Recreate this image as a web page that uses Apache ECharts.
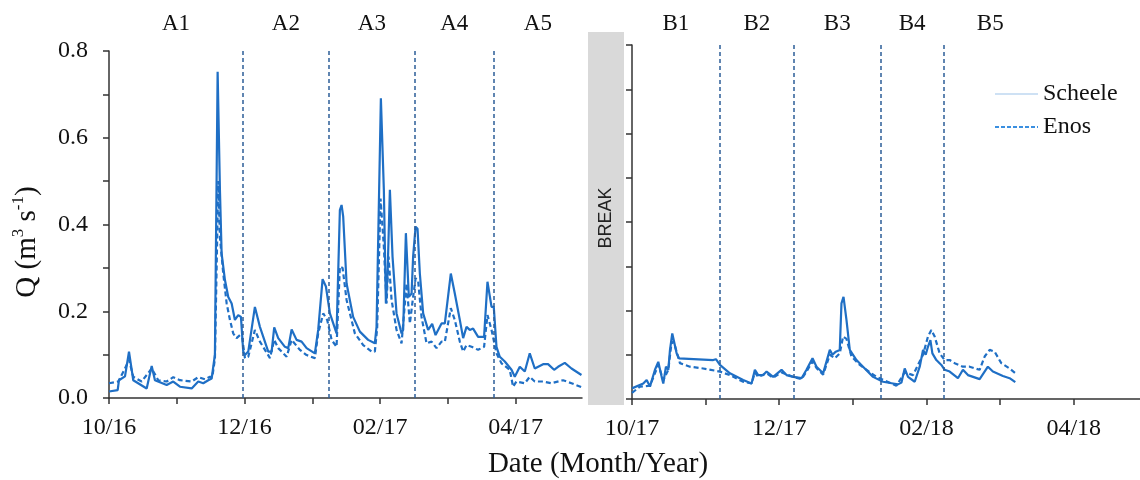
<!DOCTYPE html>
<html>
<head>
<meta charset="utf-8">
<script src="https://cdn.jsdelivr.net/npm/echarts@6/dist/echarts.min.js"></script>
<style>
  html, body { margin: 0; padding: 0; background: #fff; }
  #chart { width: 1140px; height: 480px; }
</style>
</head>
<body>
<div id="chart"></div>
<script>
// Discharge Q (m3/s) per season. x = months since the season's first month
// (season A starts Oct 2016, season B starts Oct 2017).
const scheeleA = [
  [0.000, 0.015], [0.128, 0.018], [0.147, 0.041], [0.236, 0.050], [0.295, 0.107],
  [0.358, 0.041], [0.556, 0.022], [0.630, 0.074], [0.678, 0.041], [0.851, 0.030],
  [0.948, 0.038], [1.047, 0.026], [1.220, 0.022], [1.317, 0.038], [1.391, 0.034],
  [1.465, 0.041], [1.515, 0.045], [1.563, 0.100], [1.603, 0.752], [1.637, 0.480],
  [1.662, 0.333], [1.711, 0.272], [1.760, 0.233], [1.810, 0.218], [1.858, 0.180],
  [1.907, 0.191], [1.947, 0.187], [1.981, 0.107], [2.006, 0.099], [2.055, 0.107],
  [2.153, 0.210], [2.227, 0.164], [2.350, 0.107], [2.400, 0.107], [2.438, 0.163],
  [2.497, 0.138], [2.596, 0.118], [2.645, 0.115], [2.695, 0.158], [2.768, 0.134],
  [2.842, 0.130], [2.916, 0.115], [3.038, 0.103], [3.087, 0.157], [3.152, 0.274],
  [3.201, 0.257], [3.260, 0.195], [3.358, 0.149], [3.407, 0.433], [3.432, 0.445],
  [3.456, 0.418], [3.506, 0.264], [3.603, 0.187], [3.702, 0.153], [3.824, 0.134],
  [3.923, 0.126], [3.948, 0.164], [4.012, 0.691], [4.056, 0.480], [4.086, 0.218],
  [4.111, 0.287], [4.145, 0.480], [4.184, 0.326], [4.243, 0.195], [4.317, 0.149],
  [4.341, 0.157], [4.381, 0.380], [4.425, 0.233], [4.465, 0.241], [4.488, 0.326],
  [4.524, 0.395], [4.553, 0.390], [4.587, 0.287], [4.636, 0.195], [4.709, 0.157],
  [4.769, 0.171], [4.819, 0.145], [4.907, 0.172], [4.956, 0.172], [5.044, 0.287],
  [5.103, 0.241], [5.177, 0.180], [5.226, 0.138], [5.276, 0.164], [5.324, 0.157],
  [5.373, 0.160], [5.447, 0.141], [5.535, 0.141], [5.585, 0.268], [5.645, 0.210],
  [5.678, 0.210], [5.718, 0.118], [5.767, 0.095], [5.841, 0.084], [5.940, 0.065],
  [5.988, 0.049], [6.062, 0.072], [6.136, 0.061], [6.209, 0.103], [6.283, 0.068],
  [6.406, 0.078], [6.479, 0.078], [6.568, 0.065], [6.627, 0.072], [6.726, 0.081],
  [6.825, 0.068], [6.972, 0.053]
];
const enosA = [
  [0.000, 0.034], [0.137, 0.038], [0.236, 0.068], [0.295, 0.088], [0.358, 0.049],
  [0.482, 0.038], [0.630, 0.068], [0.727, 0.041], [0.851, 0.038], [0.948, 0.048],
  [1.047, 0.041], [1.220, 0.038], [1.317, 0.048], [1.416, 0.043], [1.490, 0.049],
  [1.524, 0.048], [1.563, 0.090], [1.612, 0.500], [1.637, 0.370], [1.686, 0.287],
  [1.736, 0.218], [1.785, 0.180], [1.833, 0.149], [1.883, 0.138], [1.932, 0.145],
  [1.966, 0.138], [2.006, 0.092], [2.055, 0.095], [2.153, 0.157], [2.227, 0.130],
  [2.375, 0.092], [2.438, 0.134], [2.497, 0.115], [2.621, 0.095], [2.695, 0.134],
  [2.817, 0.111], [2.916, 0.099], [3.038, 0.092], [3.087, 0.149], [3.161, 0.195],
  [3.220, 0.180], [3.285, 0.134], [3.358, 0.118], [3.407, 0.303], [3.447, 0.300],
  [3.506, 0.226], [3.628, 0.149], [3.751, 0.122], [3.875, 0.107], [3.923, 0.107],
  [3.957, 0.160], [4.007, 0.460], [4.056, 0.349], [4.096, 0.218], [4.125, 0.326],
  [4.170, 0.226], [4.243, 0.157], [4.317, 0.126], [4.341, 0.130], [4.391, 0.264],
  [4.440, 0.172], [4.488, 0.233], [4.524, 0.276], [4.562, 0.270], [4.612, 0.187],
  [4.686, 0.126], [4.760, 0.130], [4.833, 0.115], [4.907, 0.130], [4.956, 0.130],
  [5.044, 0.207], [5.103, 0.180], [5.177, 0.130], [5.226, 0.107], [5.276, 0.122],
  [5.350, 0.118], [5.447, 0.111], [5.535, 0.118], [5.585, 0.191], [5.645, 0.157],
  [5.718, 0.103], [5.792, 0.080], [5.914, 0.065], [5.963, 0.026], [6.013, 0.038],
  [6.136, 0.034], [6.209, 0.049], [6.283, 0.038], [6.406, 0.038], [6.529, 0.034],
  [6.701, 0.041], [6.825, 0.034], [6.972, 0.025]
];
const scheeleB = [
  [0.000, 0.024], [0.153, 0.035], [0.199, 0.043], [0.244, 0.028], [0.312, 0.066],
  [0.357, 0.084], [0.403, 0.050], [0.425, 0.035], [0.461, 0.073], [0.493, 0.066],
  [0.516, 0.111], [0.547, 0.148], [0.574, 0.145], [0.607, 0.103], [0.638, 0.092],
  [1.103, 0.088], [1.140, 0.090], [1.194, 0.077], [1.330, 0.058], [1.510, 0.043],
  [1.624, 0.035], [1.669, 0.066], [1.714, 0.054], [1.782, 0.054], [1.828, 0.062],
  [1.917, 0.050], [2.031, 0.066], [2.099, 0.054], [2.189, 0.050], [2.303, 0.047],
  [2.370, 0.066], [2.452, 0.092], [2.506, 0.073], [2.596, 0.058], [2.687, 0.111],
  [2.723, 0.100], [2.768, 0.107], [2.822, 0.111], [2.845, 0.216], [2.873, 0.231],
  [2.913, 0.179], [2.958, 0.111], [3.049, 0.088], [3.138, 0.073], [3.274, 0.050],
  [3.410, 0.039], [3.545, 0.035], [3.613, 0.033], [3.659, 0.037], [3.704, 0.069],
  [3.749, 0.050], [3.840, 0.039], [3.908, 0.073], [3.953, 0.111], [3.989, 0.100],
  [4.020, 0.118], [4.053, 0.133], [4.080, 0.103], [4.134, 0.088], [4.202, 0.077],
  [4.247, 0.066], [4.315, 0.062], [4.427, 0.047], [4.495, 0.066], [4.563, 0.054],
  [4.722, 0.045], [4.834, 0.073], [4.902, 0.062], [5.038, 0.052], [5.129, 0.047],
  [5.206, 0.038]
];
const enosB = [
  [0.000, 0.014], [0.109, 0.028], [0.244, 0.030], [0.357, 0.077], [0.425, 0.043],
  [0.493, 0.066], [0.539, 0.130], [0.583, 0.120], [0.651, 0.081], [0.787, 0.073],
  [0.967, 0.069], [1.194, 0.062], [1.330, 0.054], [1.510, 0.039], [1.624, 0.035],
  [1.669, 0.060], [1.714, 0.050], [1.828, 0.058], [1.917, 0.048], [2.031, 0.060],
  [2.189, 0.050], [2.303, 0.045], [2.370, 0.062], [2.452, 0.085], [2.506, 0.070],
  [2.596, 0.055], [2.687, 0.100], [2.755, 0.092], [2.822, 0.103], [2.867, 0.141],
  [2.913, 0.136], [2.981, 0.096], [3.094, 0.077], [3.320, 0.050], [3.591, 0.030],
  [3.704, 0.060], [3.817, 0.054], [3.953, 0.100], [4.020, 0.141], [4.066, 0.156],
  [4.111, 0.141], [4.179, 0.103], [4.247, 0.088], [4.315, 0.088], [4.383, 0.081],
  [4.495, 0.073], [4.586, 0.073], [4.722, 0.066], [4.790, 0.096], [4.858, 0.111],
  [4.925, 0.107], [5.016, 0.081], [5.129, 0.069], [5.210, 0.058]
];

// Sampling periods: names and their boundaries (months since season start)
const periodsA = ['A1', 'A2', 'A3', 'A4', 'A5'];
const boundsA = [0, 1.976, 3.245, 4.513, 5.678, 6.98];
const periodsB = ['B1', 'B2', 'B3', 'B4', 'B5'];
const boundsB = [0, 1.194, 2.198, 3.378, 4.233, 5.5];

const tickLabelsA = ['10/16', '', '12/16', '', '02/17', '', '04/17'];
const tickLabelsB = ['10/17', '', '12/17', '', '02/18', '', '04/18'];
const yTicks = [0, 0.1, 0.2, 0.3, 0.4, 0.5, 0.6, 0.7, 0.8];
const yTickLabels = ['0.0', '', '0.2', '', '0.4', '', '0.6', '', '0.8'];

const SERIF = '"Liberation Serif", "Times New Roman", serif';
const LINE_BLUE = '#1f6fc5';
const AXIS_COLOR = '#333';

function xAxisFor(gridIndex, max, labels) {
  const ticks = labels.map((_, i) => i);
  return {
    type: 'value', gridIndex, min: 0, max,
    axisLine: { show: true, onZero: false, lineStyle: { color: AXIS_COLOR, width: 1.5 } },
    axisTick: { show: true, length: 6, customValues: ticks, lineStyle: { color: AXIS_COLOR, width: 1.5 } },
    axisLabel: {
      show: true, customValues: ticks, margin: 18,
      formatter: v => labels[Math.round(v)] || '',
      fontFamily: SERIF, fontSize: 24, color: '#111'
    },
    splitLine: { show: false }
  };
}
function yAxisFor(gridIndex, showLabels) {
  return {
    type: 'value', gridIndex, min: 0, max: 0.8,
    axisLine: { show: true, lineStyle: { color: AXIS_COLOR, width: 1.5 } },
    axisTick: { show: true, length: 6, customValues: yTicks, lineStyle: { color: AXIS_COLOR, width: 1.5 } },
    axisLabel: {
      show: showLabels, customValues: yTicks, margin: 21,
      formatter: v => yTickLabels[Math.round(v * 10)] || '',
      fontFamily: SERIF, fontSize: 24, color: '#111'
    },
    splitLine: { show: false }
  };
}
function boundaryLines(bounds) {
  return {
    silent: true, symbol: ['none', 'none'], animation: false,
    label: { show: false },
    lineStyle: { color: '#2d5d98', width: 1.5, type: [4, 3] },
    data: bounds.slice(1, -1).map(v => ({ xAxis: v }))
  };
}
function lineSeries(name, data, idx, dashed, marks) {
  const s = {
    name, type: 'line', data, xAxisIndex: idx, yAxisIndex: idx,
    showSymbol: false, symbol: 'none', smooth: false, animation: false,
    lineStyle: { color: LINE_BLUE, width: 2.2, type: dashed ? [5, 3] : 'solid' },
    itemStyle: { color: LINE_BLUE }
  };
  if (marks) s.markLine = marks;
  return s;
}

const option = {
  animation: false,
  backgroundColor: '#fff',
  grid: [
    { left: 109, top: 51, width: 473, height: 347 },
    { left: 632, top: 45, width: 508, height: 354 }
  ],
  xAxis: [xAxisFor(0, 6.98, tickLabelsA), xAxisFor(1, 6.9, tickLabelsB)],
  yAxis: [yAxisFor(0, true), yAxisFor(1, false)],
  legend: {
    orient: 'vertical', left: 994, top: 82, padding: 0,
    itemWidth: 43, itemHeight: 2, itemGap: 9, selectedMode: false,
    textStyle: { fontFamily: SERIF, fontSize: 24, color: '#111', lineHeight: 24 },
    data: [
      {
        name: 'Scheele',
        itemStyle: { opacity: 0 },
        lineStyle: { color: '#9dc3ea', width: 1.2, type: 'solid' }
      },
      {
        name: 'Enos',
        itemStyle: { opacity: 0 },
        lineStyle: { color: '#3a8fe0', width: 2, type: [4, 2] }
      }
    ]
  },
  series: [
    lineSeries('Scheele', scheeleA, 0, false, boundaryLines(boundsA)),
    lineSeries('Enos', enosA, 0, true),
    lineSeries('Scheele', scheeleB, 1, false, boundaryLines(boundsB)),
    lineSeries('Enos', enosB, 1, true)
  ]
};

const chart = echarts.init(document.getElementById('chart'));
chart.setOption(option);

// Period names centred over each sampling period
function periodLabels(names, bounds, axisIndex) {
  return names.map((name, i) => ({
    type: 'text',
    x: chart.convertToPixel({ xAxisIndex: axisIndex }, (bounds[i] + bounds[i + 1]) / 2),
    y: 24,
    style: {
      text: name, fontFamily: SERIF, fontSize: 23, fill: '#111',
      align: 'center', verticalAlign: 'middle', textAlign: 'center', textVerticalAlign: 'middle'
    }
  }));
}

chart.setOption({
  graphic: [
    // gap between the two seasons
    { type: 'rect', shape: { x: 588, y: 32, width: 36, height: 373 }, style: { fill: '#d9d9d9' } },
    {
      type: 'text', x: 606, y: 218, rotation: Math.PI / 2,
      style: {
        text: 'BREAK', fontFamily: '"Liberation Sans", Arial, sans-serif', fontSize: 18, fill: '#222',
        align: 'center', verticalAlign: 'middle', textAlign: 'center', textVerticalAlign: 'middle'
      }
    },
    ...periodLabels(periodsA, boundsA, 0),
    ...periodLabels(periodsB, boundsB, 1),
    {
      type: 'text', x: 598, y: 464,
      style: {
        text: 'Date (Month/Year)', fontFamily: SERIF, fontSize: 29, fill: '#111',
        align: 'center', verticalAlign: 'middle', textAlign: 'center', textVerticalAlign: 'middle'
      }
    },
    {
      type: 'text', x: 27, y: 242, rotation: Math.PI / 2,
      style: {
        text: '{a|Q (m}{s|3}{a| s}{s|-1}{a|)}',
        align: 'center', verticalAlign: 'middle', textAlign: 'center', textVerticalAlign: 'middle',
        rich: {
          a: { fontFamily: SERIF, fontSize: 29, fill: '#111', lineHeight: 34 },
          s: { fontFamily: SERIF, fontSize: 17, fill: '#111', lineHeight: 34, verticalAlign: 'top' }
        }
      }
    }
  ]
});
</script>
</body>
</html>
